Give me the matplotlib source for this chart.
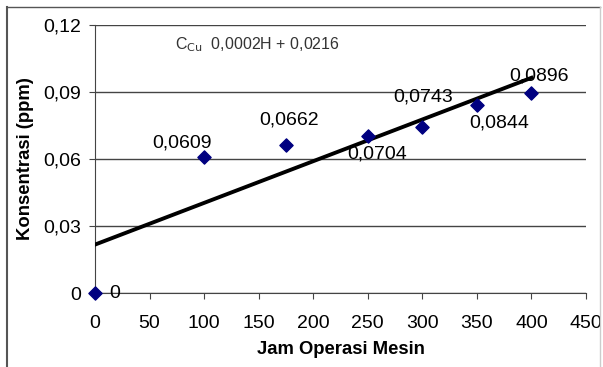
import numpy as np
import matplotlib.pyplot as plt
from matplotlib.lines import Line2D

# operating hours vs Cu concentration
jam = [0, 100, 175, 250, 300, 350, 400]
konsentrasi = [0.0, 0.0609, 0.0662, 0.0704, 0.0743, 0.0844, 0.0896]
label_teks = ["0", "0,0609", "0,0662", "0,0704", "0,0743", "0,0844", "0,0896"]
# label centre offsets from each point, in pixels (dx right, dy up)
label_geser = [(20, 0), (-22, 14), (3, 25), (9, -18), (1, 30), (22, -18), (8, 17)]

plt.rcParams['font.family'] = ['Liberation Sans', 'DejaVu Sans']

W, H = 603, 367
fig = plt.figure(figsize=(W/100, H/100), dpi=100)
ax = fig.add_axes([95/W, 1-293/H, 491/W, 268/H])

ax.set_xlim(0, 450)
ax.set_ylim(0, 0.12)
ax.set_xticks(np.arange(0, 451, 50))
ax.set_yticks([0, 0.03, 0.06, 0.09, 0.12])
ax.set_yticklabels(["0", "0,03", "0,06", "0,09", "0,12"])
ax.grid(axis='y', color='#444444', linewidth=1)
ax.set_axisbelow(True)
for s in ['top', 'right']:
    ax.spines[s].set_visible(False)
for s in ['left', 'bottom']:
    ax.spines[s].set_color('#444444')
ax.tick_params(axis='both', labelsize=14, color='#444444', length=4)
ax.tick_params(axis='x', pad=12)
ax.tick_params(axis='y', pad=6)

# linear trendline
k, c = np.polyfit(jam, konsentrasi, 1)
xs = np.array([0, 400])
ax.plot(xs, k*xs + c, color='black', linewidth=2.8, zorder=3)

ax.scatter(jam, konsentrasi, marker='D', s=45, color='#000080', zorder=4, clip_on=False)

for x, y, t, (dx, dy) in zip(jam, konsentrasi, label_teks, label_geser):
    ax.annotate(t, (x, y), xytext=(dx*0.72, dy*0.72), textcoords='offset points',
                ha='center', va='center', fontsize=14, zorder=5)

# trendline equation
fig.text(175/W, 1-45/H, r"C$_{\mathrm{Cu}}$  0,0002H + 0,0216",
         fontsize=11.5, color='#333333', va='center')

ax.set_xlabel("Jam Operasi Mesin", fontsize=13.3, fontweight='bold', labelpad=6)
ax.set_ylabel("Konsentrasi (ppm)", fontsize=13.3, fontweight='bold', labelpad=7)

# outer frame
fig.add_artist(Line2D([7/W, 7/W], [0, 1-7/H], transform=fig.transFigure, color='#555555', linewidth=1.5))
fig.add_artist(Line2D([7/W, 600/W], [1-7/H, 1-7/H], transform=fig.transFigure, color='#555555', linewidth=1))
fig.add_artist(Line2D([600/W, 600/W], [0, 1-7/H], transform=fig.transFigure, color='#cccccc', linewidth=1))

fig.savefig("out.png", dpi=100)
